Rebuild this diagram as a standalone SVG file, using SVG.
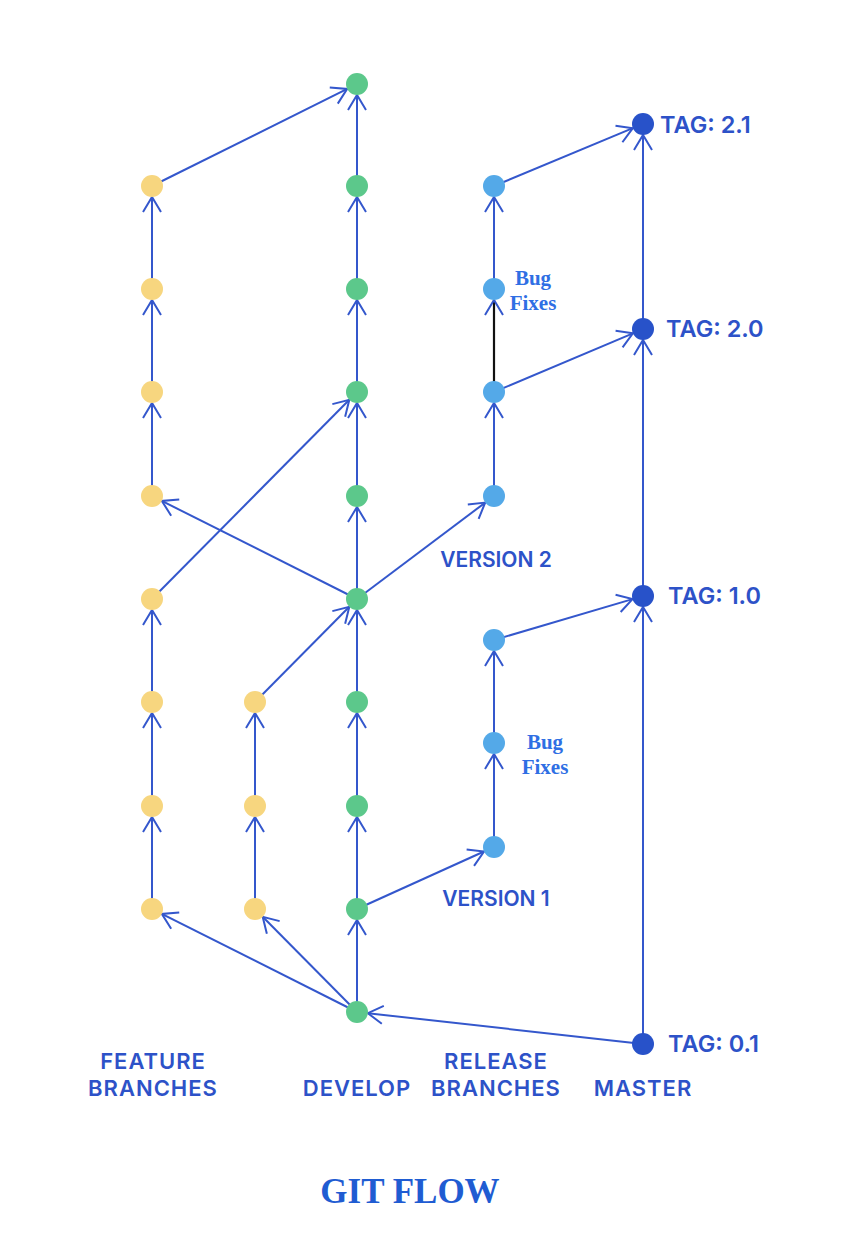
<svg xmlns="http://www.w3.org/2000/svg" width="846" height="1252" viewBox="0 0 846 1252">
<defs>
<marker id="ah" markerUnits="userSpaceOnUse" markerWidth="40" markerHeight="40" refX="0" refY="0" viewBox="-20 -20 40 40" orient="auto" overflow="visible">
<path d="M-15,-9 L0,0 L-15,9" fill="none" stroke="#3457CC" stroke-width="2"/>
</marker>
</defs>
<style>
.e{stroke:#3457CC;stroke-width:2;fill:none;marker-end:url(#ah)}
.k{stroke:#111;stroke-width:2.2;fill:none;marker-end:url(#ah)}
.f{fill:#F7D67F}
.d{fill:#5CC88B}
.r{fill:#54A9E8}
.m{fill:#2852C9}
.lb{font-family:Inter,"Liberation Sans",sans-serif;font-weight:600;fill:#2D52C8;font-size:23.5px}
.v{font-size:21px}
.bt{font-size:22px;letter-spacing:1px}
.bf{font-family:"Liberation Serif",serif;font-weight:bold;fill:#2F6FE4;font-size:21px}
.t{font-family:"Liberation Serif",serif;font-weight:bold;fill:#1F5CD2;font-size:35px}
</style>
<rect width="846" height="1252" fill="#fff"/>
<g id="connectors">
<path class="e" d="M152,186 L347.2,88.9"/>
<path class="e" d="M152,289 V197"/>
<path class="e" d="M152,392 V300"/>
<path class="e" d="M152,496 V403"/>
<path class="e" d="M152,702 V610"/>
<path class="e" d="M152,806 V713"/>
<path class="e" d="M152,909 V817"/>
<path class="e" d="M152,599 L349.3,399.8"/>
<path class="e" d="M357,599 L161.8,500.9"/>
<path class="e" d="M255,806 V713"/>
<path class="e" d="M255,909 V817"/>
<path class="e" d="M255,702 L349.3,606.8"/>
<path class="e" d="M357,186 V95"/>
<path class="e" d="M357,289 V197"/>
<path class="e" d="M357,392 V300"/>
<path class="e" d="M357,496 V403"/>
<path class="e" d="M357,599 V507"/>
<path class="e" d="M357,702 V610"/>
<path class="e" d="M357,806 V713"/>
<path class="e" d="M357,909 V817"/>
<path class="e" d="M357,1012 V920"/>
<path class="e" d="M357,1012 L161.8,913.9"/>
<path class="e" d="M357,1012 L262.7,916.8"/>
<path class="e" d="M643,1044 L367.9,1013.2"/>
<path class="e" d="M357,909 L484,851.5"/>
<path class="e" d="M494,847 V754"/>
<path class="e" d="M494,743 V651"/>
<path class="e" d="M494,640 L632.5,599.1"/>
<path class="e" d="M357,599 L485.2,502.6"/>
<path class="e" d="M494,496 V403"/>
<path class="k" d="M494,392 V300"/>
<path class="e" d="M494,289 V197"/>
<path class="e" d="M494,392 L632.9,333.3"/>
<path class="e" d="M494,186 L632.8,128.2"/>
<path class="e" d="M643,1044 V607"/>
<path class="e" d="M643,596 V340"/>
<path class="e" d="M643,329 V135"/>
</g>
<g id="feature-nodes">
<circle id="f1" class="f" cx="152" cy="186" r="11"/>
<circle id="f2" class="f" cx="152" cy="289" r="11"/>
<circle id="f3" class="f" cx="152" cy="392" r="11"/>
<circle id="f4" class="f" cx="152" cy="496" r="11"/>
<circle id="f5" class="f" cx="152" cy="599" r="11"/>
<circle id="f6" class="f" cx="152" cy="702" r="11"/>
<circle id="f7" class="f" cx="152" cy="806" r="11"/>
<circle id="f8" class="f" cx="152" cy="909" r="11"/>
<circle id="g1" class="f" cx="255" cy="702" r="11"/>
<circle id="g2" class="f" cx="255" cy="806" r="11"/>
<circle id="g3" class="f" cx="255" cy="909" r="11"/>
</g>
<g id="develop-nodes">
<circle id="d1" class="d" cx="357" cy="84" r="11"/>
<circle id="d2" class="d" cx="357" cy="186" r="11"/>
<circle id="d3" class="d" cx="357" cy="289" r="11"/>
<circle id="d4" class="d" cx="357" cy="392" r="11"/>
<circle id="d5" class="d" cx="357" cy="496" r="11"/>
<circle id="d6" class="d" cx="357" cy="599" r="11"/>
<circle id="d7" class="d" cx="357" cy="702" r="11"/>
<circle id="d8" class="d" cx="357" cy="806" r="11"/>
<circle id="d9" class="d" cx="357" cy="909" r="11"/>
<circle id="d10" class="d" cx="357" cy="1012" r="11"/>
</g>
<g id="release-nodes">
<circle id="r1" class="r" cx="494" cy="186" r="11"/>
<circle id="r2" class="r" cx="494" cy="289" r="11"/>
<circle id="r3" class="r" cx="494" cy="392" r="11"/>
<circle id="r4" class="r" cx="494" cy="496" r="11"/>
<circle id="r5" class="r" cx="494" cy="640" r="11"/>
<circle id="r6" class="r" cx="494" cy="743" r="11"/>
<circle id="r7" class="r" cx="494" cy="847" r="11"/>
</g>
<g id="master-nodes">
<g id="tag21"><circle class="m" cx="643" cy="124" r="11"/><text class="lb" x="660" y="133">TAG: 2.1</text></g>
<g id="tag20"><circle class="m" cx="643" cy="329" r="11"/><text class="lb" x="666" y="337">TAG: 2.0</text></g>
<g id="tag10"><circle class="m" cx="643" cy="596" r="11"/><text class="lb" x="668" y="604">TAG: 1.0</text></g>
<g id="tag01"><circle class="m" cx="643" cy="1044" r="11"/><text class="lb" x="668" y="1052">TAG: 0.1</text></g>
</g>
<g id="labels">
<text class="bf" x="533" y="285" text-anchor="middle">Bug</text>
<text class="bf" x="533" y="310" text-anchor="middle">Fixes</text>
<text class="bf" x="545" y="749" text-anchor="middle">Bug</text>
<text class="bf" x="545" y="774" text-anchor="middle">Fixes</text>
<text class="lb v" x="496" y="567" text-anchor="middle">VERSION 2</text>
<text class="lb v" x="496" y="906" text-anchor="middle">VERSION 1</text>
<text class="lb bt" x="153" y="1069" text-anchor="middle">FEATURE</text>
<text class="lb bt" x="153" y="1096" text-anchor="middle">BRANCHES</text>
<text class="lb bt" x="357" y="1096" text-anchor="middle">DEVELOP</text>
<text class="lb bt" x="496" y="1069" text-anchor="middle">RELEASE</text>
<text class="lb bt" x="496" y="1096" text-anchor="middle">BRANCHES</text>
<text class="lb bt" x="643" y="1096" text-anchor="middle">MASTER</text>
<text class="t" x="410" y="1203" text-anchor="middle">GIT FLOW</text>
</g>
</svg>
